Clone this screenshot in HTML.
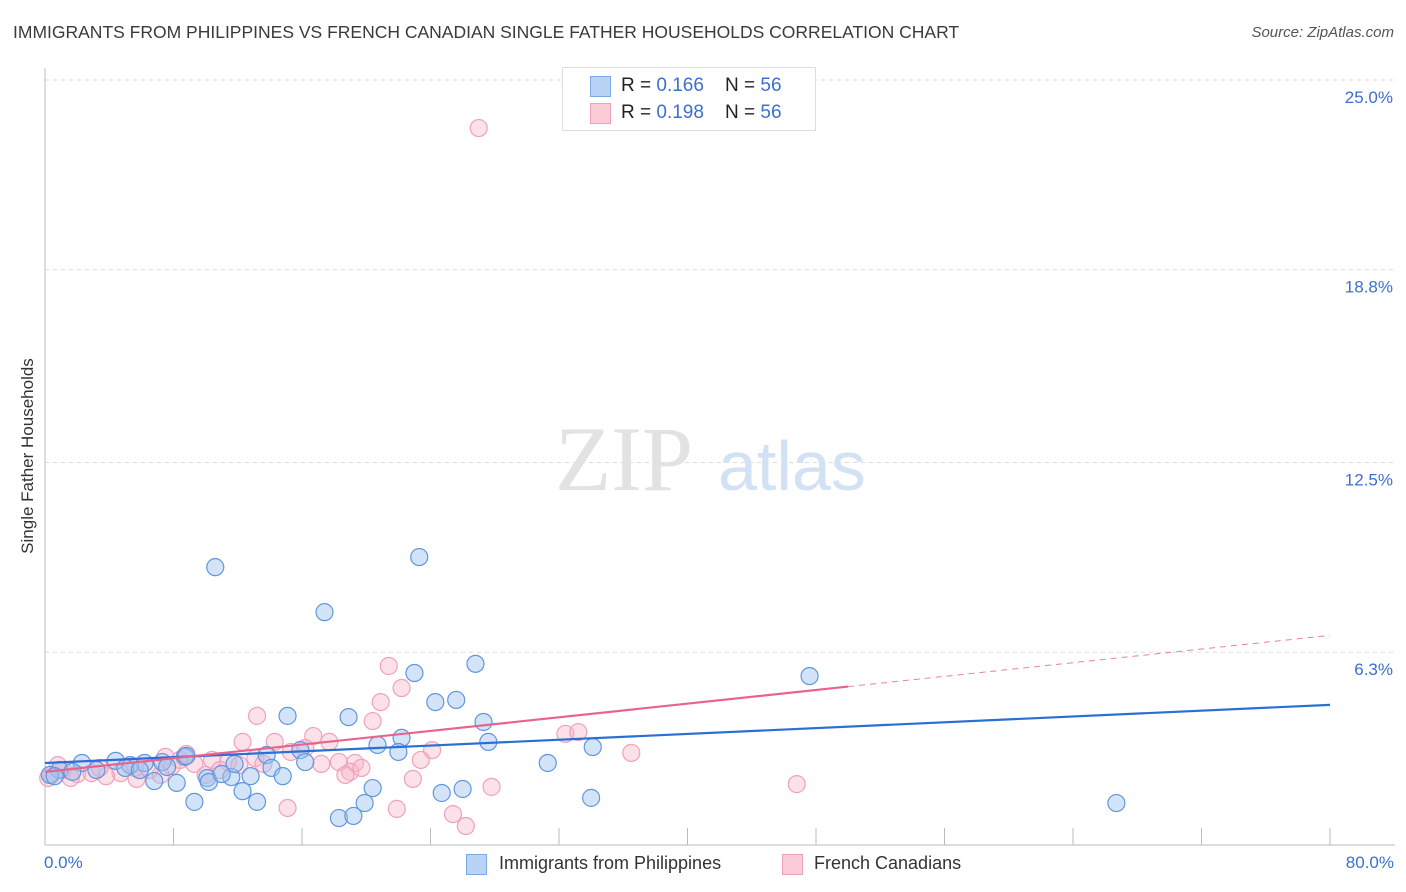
<!DOCTYPE html>
<html><head><meta charset="utf-8"><style>
body{margin:0;background:#fff;font-family:"Liberation Sans",sans-serif;}
#wrap{position:relative;width:1406px;height:892px;overflow:hidden}
.t{position:absolute;white-space:nowrap}
</style></head><body>
<div id="wrap">
<div class="t" style="left:13px;top:22px;font-size:17.5px;color:#3a3a3a">IMMIGRANTS FROM PHILIPPINES VS FRENCH CANADIAN SINGLE FATHER HOUSEHOLDS CORRELATION CHART</div>
<div class="t" style="right:12px;top:24px;font-size:15px;color:#555;font-style:italic">Source: ZipAtlas.com</div>
<svg id="svg" width="1406" height="892" style="position:absolute;left:0;top:0"></svg>
</div>
<script>
const blueX=[10.6,23.3,17.4,23.0,26.8,47.6,24.3,25.6,15.1,18.9,27.3,22.2,27.6,20.7,34.1,22.0,31.3,13.8,15.9,16.2,14.1,14.8,12.8,11.6,10.1,8.7,8.2,6.8,10.2,12.3,13.2,9.3,20.4,24.7,26.0,19.9,18.3,19.2,34.0,66.7,7.3,6.2,5.3,4.4,2.3,3.2,0.9,0.3,1.7,5.0,5.9,7.6,11.8,8.8,11.0,0.6];
const blueY=[9.08,9.41,7.61,5.62,5.92,5.52,4.67,4.74,4.22,4.18,4.02,3.50,3.37,3.27,3.20,3.04,2.68,2.94,3.10,2.71,2.52,2.25,2.25,2.22,2.19,2.88,2.03,2.09,2.06,1.76,1.41,1.41,1.86,1.70,1.83,1.37,0.88,0.95,1.54,1.37,2.71,2.68,2.61,2.75,2.68,2.45,2.45,2.29,2.39,2.52,2.45,2.55,2.65,2.91,2.32,2.25];
const pinkX=[27.0,21.4,22.2,20.9,20.4,13.2,16.7,17.7,12.3,14.3,15.3,16.2,13.1,13.6,17.2,18.3,19.3,19.0,19.7,24.1,23.4,22.9,32.4,33.2,36.5,46.8,27.8,21.9,25.4,26.2,15.1,8.8,9.3,10.4,11.4,10.0,7.9,7.2,5.7,4.7,3.8,2.9,2.0,1.1,0.4,0.2,5.6,6.5,10.9,12.1,8.4,18.7,3.4,1.6,0.8,7.5];
const pinkY=[23.43,5.85,5.13,4.67,4.05,4.22,3.56,3.37,3.37,3.37,3.04,3.17,2.84,2.65,2.65,2.71,2.68,2.39,2.52,3.10,2.78,2.16,3.63,3.69,3.01,1.99,1.90,1.18,1.01,0.62,1.21,2.97,2.65,2.78,2.71,2.29,2.58,2.29,2.16,2.35,2.25,2.35,2.32,2.45,2.29,2.19,2.52,2.45,2.45,2.61,2.78,2.29,2.52,2.19,2.61,2.88];
const yTicks=[25.0,18.8,12.5,6.3];
const yTickLabels=["25.0%","18.8%","12.5%","6.3%"];
const xTicks=[0,8,16,24,32,40,48,56,64,72,80];
const blueTrend=[2.68,4.58];     // y at x=0 and x=80
const pinkTrend=[2.39,6.85];     // y at x=0 and x=80
const pinkSolidEnd=50;
const X=v=>45+v/80*1285, Y=v=>845-v*30.6;
const svg=document.getElementById('svg'),NS='http://www.w3.org/2000/svg';
function mk(t,a,p){const e=document.createElementNS(NS,t);for(const k in a)e.setAttribute(k,a[k]);(p||svg).appendChild(e);return e;}
yTicks.forEach((v,i)=>{
 const l=mk('line',{x1:45,x2:1395,y1:Y(v),y2:Y(v),stroke:'#dcdcdc','stroke-dasharray':'4,4'});
 
 const t=mk('text',{x:1393,y:Y(v)+23,'text-anchor':'end','font-size':17,fill:'#3d6fd0'});
 t.textContent=yTickLabels[i];
 
});
mk('line',{x1:45,x2:45,y1:68,y2:845,stroke:'#bbb'});
mk('line',{x1:45,x2:1395,y1:845,y2:845,stroke:'#bbb'});
xTicks.forEach(v=>{const l=mk('line',{x1:X(v),x2:X(v),y1:828,y2:845,stroke:'#bbb'});
 });
const wm=mk('text',{x:555,y:490,'font-size':92,fill:'#e2e2e2','font-family':'Liberation Serif'});wm.textContent='ZIP';
const wm2=mk('text',{x:718,y:490,'font-size':70,fill:'#d2e2f4'});wm2.textContent='atlas';
function dots(xs,ys,fill,stroke,name){xs.forEach((x,i)=>{const c=mk('circle',{cx:X(x),cy:Y(ys[i]),r:8.5,fill:fill,stroke:stroke,'stroke-width':1.2});
 });}
dots(pinkX,pinkY,'rgba(248,180,200,0.4)','#f0a2ba','french-canadian-point');
dots(blueX,blueY,'rgba(160,196,240,0.45)','#5f97de','philippines-point');
const bt=mk('line',{x1:X(0),y1:Y(blueTrend[0]),x2:X(80),y2:Y(blueTrend[1]),stroke:'#2a6fd6','stroke-width':2.2});

const pe=pinkTrend[0]+(pinkTrend[1]-pinkTrend[0])*pinkSolidEnd/80;
const pt=mk('line',{x1:X(0),y1:Y(pinkTrend[0]),x2:X(pinkSolidEnd),y2:Y(pe),stroke:'#e8648e','stroke-width':2.2});

const pd=mk('line',{x1:X(pinkSolidEnd),y1:Y(pe),x2:X(80),y2:Y(pinkTrend[1]),stroke:'#e8809f','stroke-width':1,'stroke-dasharray':'6,5'});

</script>
<div class="t" style="left:28px;top:456px;font-size:17px;color:#333;transform:translate(-50%,-50%) rotate(-90deg)">Single Father Households</div>
<div class="t" style="left:44px;top:853px;font-size:17px;color:#3d6fd0">0.0%</div>
<div class="t" style="right:12px;top:853px;font-size:17px;color:#3d6fd0">80.0%</div>
<div style="position:absolute;left:562px;top:67px;width:252px;height:62px;border:1px solid #ddd;background:#fff;font-size:19px;color:#222">
 <div style="position:absolute;left:27px;top:8px;width:19px;height:19px;background:#b9d3f6;border:1px solid #7aa8e6"></div>
 <div class="t" style="left:58px;top:7px">R = <span style="color:#3d6fd0">0.166</span>&nbsp;&nbsp;&nbsp; N = <span style="color:#3d6fd0">56</span></div>
 <div style="position:absolute;left:27px;top:35px;width:19px;height:19px;background:#fbcbd8;border:1px solid #f0a0b8"></div>
 <div class="t" style="left:58px;top:34px">R = <span style="color:#3d6fd0">0.198</span>&nbsp;&nbsp;&nbsp; N = <span style="color:#3d6fd0">56</span></div>
</div>
<div style="position:absolute;left:466px;top:853px;font-size:18px;color:#333">
 <div style="position:absolute;left:0;top:1px;width:19px;height:19px;background:#b9d3f6;border:1px solid #7aa8e6"></div>
 <div class="t" style="left:33px;top:0">Immigrants from Philippines</div></div>
<div style="position:absolute;left:782px;top:853px;font-size:18px;color:#333">
 <div style="position:absolute;left:0;top:1px;width:19px;height:19px;background:#fbcbd8;border:1px solid #f0a0b8"></div>
 <div class="t" style="left:32px;top:0">French Canadians</div></div>
</body></html>
